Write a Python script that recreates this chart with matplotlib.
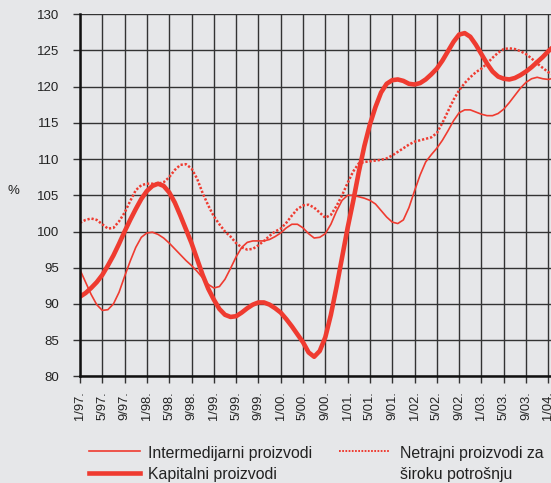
import numpy as np
import matplotlib
matplotlib.use("Agg")
import matplotlib.pyplot as plt
from matplotlib.lines import Line2D

plt.rcParams["font.family"] = ["Liberation Sans", "DejaVu Sans"]

# monthly index, 1/97 = 0
x_tick_labels = [
    "1/97.", "5/97.", "9/97.", "1/98.", "5/98.", "9/98.", "1/99.", "5/99.",
    "9/99.", "1/00.", "5/00.", "9/00.", "1/01.", "5/01.", "9/01.", "1/02.",
    "5/02.", "9/02.", "1/03.", "5/03.", "9/03.", "1/04.",
]
y_ticks = [80, 85, 90, 95, 100, 105, 110, 115, 120, 125, 130]

intermedijarni = [
    94.7, 93.0, 91.3, 89.9, 89.1, 89.2, 90.0, 91.6, 93.8, 95.9,
    97.8, 99.2, 99.8, 99.9, 99.6, 99.1, 98.4, 97.6, 96.8, 96.0,
    95.3, 94.5, 93.6, 92.7, 92.2, 92.4, 93.4, 94.9, 96.5, 97.8,
    98.5, 98.7, 98.7, 98.7, 98.9, 99.3, 99.8, 100.5, 101.0, 101.0,
    100.5, 99.7, 99.1, 99.2, 99.7, 101.0, 102.8, 104.3, 105.0, 105.0,
    104.8, 104.6, 104.3, 103.8, 102.9, 102.0, 101.3, 101.1, 101.6, 103.3,
    105.6, 107.8, 109.6, 110.6, 111.5, 112.6, 113.9, 115.3, 116.4, 116.8,
    116.8, 116.5, 116.2, 116.0, 116.0, 116.3, 116.9, 117.8, 118.8, 119.8,
    120.6, 121.1, 121.3, 121.1, 121.0, 121.2,
]
kapitalni = [
    91.0, 91.5, 92.2, 93.0, 94.0, 95.3, 96.7, 98.3, 100.0, 101.6,
    103.1, 104.5, 105.6, 106.3, 106.6, 106.3, 105.4, 104.0, 102.2, 100.3,
    98.4, 96.2, 94.0, 92.1, 90.6, 89.3, 88.5, 88.2, 88.3, 88.8,
    89.4, 89.9, 90.2, 90.2, 89.9, 89.4, 88.8, 87.9, 86.9, 85.8,
    84.7, 83.3, 82.7, 83.5, 85.4, 88.5, 92.3, 96.4, 100.5, 104.2,
    108.2, 111.8, 114.8, 117.2, 119.2, 120.4, 120.9, 121.0, 120.8, 120.4,
    120.3, 120.5, 121.0, 121.7, 122.5, 123.6, 124.9, 126.2, 127.2, 127.4,
    126.9, 125.8, 124.5, 123.2, 122.1, 121.4, 121.1, 121.0, 121.2, 121.6,
    122.1, 122.7, 123.4, 124.1, 124.9, 125.6,
]
netrajni = [
    101.2, 101.6, 101.8, 101.6, 101.0, 100.4, 100.5, 101.4, 102.6, 104.2,
    105.7, 106.4, 106.6, 106.6, 106.6, 106.8, 107.5, 108.5, 109.2, 109.3,
    108.7, 107.3, 105.3, 103.6, 102.1, 101.0, 100.0, 99.3, 98.4, 97.8,
    97.5, 97.6, 98.1, 98.7, 99.4, 100.0, 100.4, 101.2, 102.2, 103.1,
    103.6, 103.7, 103.3, 102.6, 101.9, 102.3, 103.5, 105.0, 106.7, 108.3,
    109.4, 109.6, 109.7, 109.8, 109.9, 110.1, 110.5, 111.0, 111.5, 112.0,
    112.4, 112.6, 112.8, 113.0, 113.6, 115.0, 116.6, 118.2, 119.5, 120.5,
    121.3, 122.0, 122.5, 123.2, 124.0, 124.7, 125.2, 125.3, 125.2, 124.9,
    124.5, 123.9, 123.2, 122.6, 122.0, 121.6,
]

months = np.arange(len(kapitalni))
bg = "#e6e7e9"
red = "#ef3b30"
grid_col = "#333333"
txt_col = "#222222"
dots = (0, (0.9, 0.75))

fig = plt.figure(figsize=(5.51, 4.83), dpi=100, facecolor=bg)
ax = fig.add_axes([0.1452, 0.2209, 0.8548, 0.7495], facecolor=bg)

ax.set_xlim(0, 84.48)
ax.set_ylim(80, 130)
ax.set_xticks(np.arange(0, 85, 4))
ax.set_xticklabels(x_tick_labels, rotation=90, fontsize=9.3, color=txt_col)
ax.set_yticks(y_ticks)
ax.set_yticklabels([str(v) for v in y_ticks], fontsize=9.5, color=txt_col)
ax.tick_params(axis="y", length=5, width=1, color=grid_col, pad=10)
ax.tick_params(axis="x", length=5, width=1, color=grid_col, pad=5.5)
ax.grid(True, color=grid_col, linewidth=1.0)
ax.set_axisbelow(True)

for side in ["top", "right"]:
    ax.spines[side].set_visible(False)
for side in ["left", "bottom"]:
    ax.spines[side].set_color("#111111")
    ax.spines[side].set_linewidth(1.8)

ax.plot(months, intermedijarni, color=red, linewidth=1.2, solid_capstyle="round")
ax.plot(months, kapitalni, color=red, linewidth=3.3, solid_capstyle="round")
ax.plot(months, netrajni, color=red, linewidth=1.8, linestyle=dots)

fig.text(0.025, 0.605, "%", fontsize=9.5, color=txt_col, ha="center", va="center")

# legend
fig.add_artist(Line2D([0.1615, 0.2541], [0.0669, 0.0669], color=red, linewidth=1.2))
fig.add_artist(Line2D([0.1615, 0.2541], [0.0201, 0.0201], color=red, linewidth=3.3))
fig.add_artist(Line2D([0.6158, 0.7078], [0.0669, 0.0669], color=red, linewidth=1.4,
                      linestyle=dots))
leg_fs = 11.4
fig.text(0.268, 0.0621, "Intermedijarni proizvodi", fontsize=leg_fs, color=txt_col, va="center")
fig.text(0.268, 0.0186, "Kapitalni proizvodi", fontsize=leg_fs, color=txt_col, va="center")
fig.text(0.726, 0.0621, "Netrajni proizvodi za", fontsize=leg_fs, color=txt_col, va="center")
fig.text(0.726, 0.0186, "široku potrošnju", fontsize=leg_fs, color=txt_col, va="center")

fig.savefig("out.png", dpi=100, facecolor=bg)
